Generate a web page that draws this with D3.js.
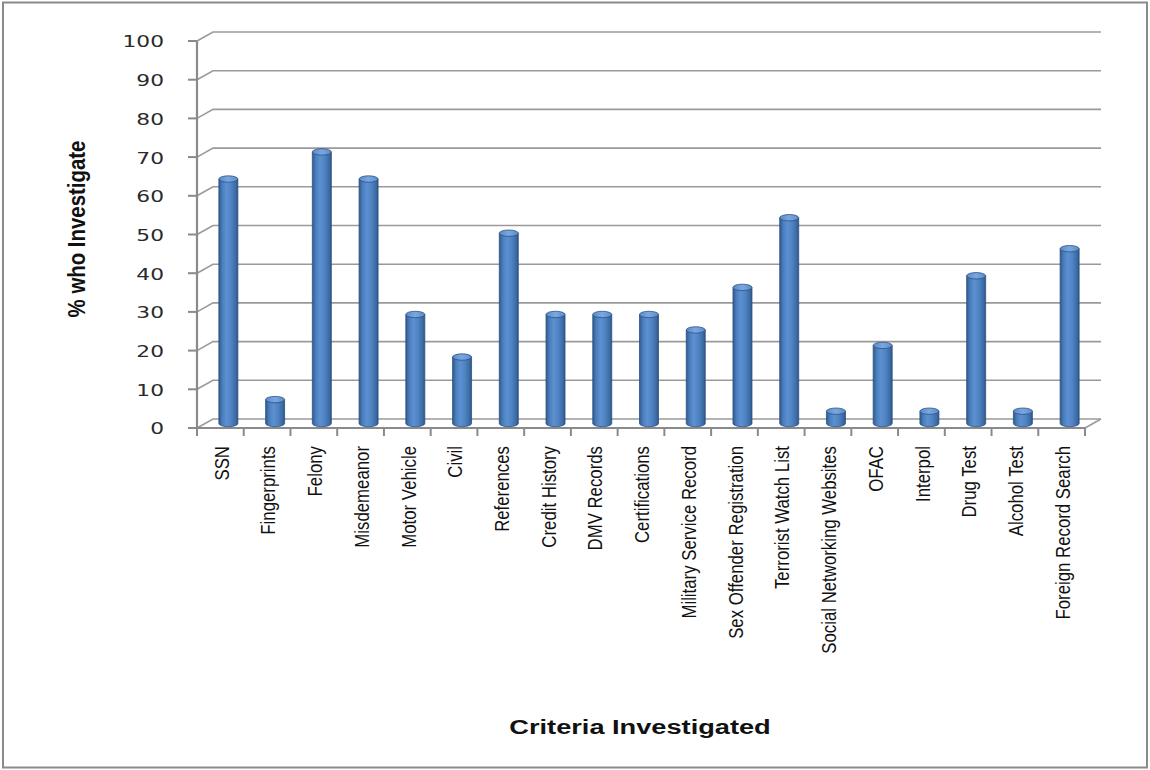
<!DOCTYPE html>
<html>
<head>
<meta charset="utf-8">
<script src="https://cdn.jsdelivr.net/npm/d3@7"></script>
<style>
  html, body { margin: 0; padding: 0; background: #fff; }
  svg { display: block; }
</style>
</head>
<body>
<svg id="chart" width="1150" height="770"></svg>
<script>
const categories = ["SSN", "Fingerprints", "Felony", "Misdemeanor", "Motor Vehicle", "Civil",
  "References", "Credit History", "DMV Records", "Certifications", "Military Service Record",
  "Sex Offender Registration", "Terrorist Watch List", "Social Networking Websites", "OFAC",
  "Interpol", "Drug Test", "Alcohol Test", "Foreign Record Search"];
const values = [64, 7, 71, 64, 29, 18, 50, 29, 29, 29, 25, 36, 54, 4, 21, 4, 39, 4, 46];
const yTicks = [0, 10, 20, 30, 40, 50, 60, 70, 80, 90, 100];
const yTitle = "% who Investigate";
const xTitle = "Criteria Investigated";

const svg = d3.select("#chart");
const depthX = 16, depthY = -9;
const x0 = 197, x1 = 1085;
const y = d3.scaleLinear().domain([0, 100]).range([428, 41]);
const x = d3.scaleBand().domain(categories).range([x0, x1]).paddingInner(0).paddingOuter(0);

// outer border
svg.append("rect").attr("x", 3).attr("y", 2.5).attr("width", 1144).attr("height", 765)
  .attr("fill", "#fff").attr("stroke", "#8a8a8a").attr("stroke-width", 2);

// defs: cylinder gradient
const defs = svg.append("defs");
const g1 = defs.append("linearGradient").attr("id", "cyl").attr("x1", "0").attr("x2", "1").attr("y1", "0").attr("y2", "0");
[[0, "#2f5a8c"], [0.18, "#4a7dbb"], [0.4, "#5c90d2"], [0.65, "#4f83c2"], [0.88, "#3d6ca7"], [1, "#2c5586"]]
  .forEach(([o, c]) => g1.append("stop").attr("offset", o).attr("stop-color", c));
const g2 = defs.append("linearGradient").attr("id", "cyltop").attr("x1", "0").attr("x2", "1").attr("y1", "0").attr("y2", "0");
[[0, "#5a8ccb"], [0.5, "#7aa7e0"], [1, "#5a8ccb"]]
  .forEach(([o, c]) => g2.append("stop").attr("offset", o).attr("stop-color", c));

// gridlines (back wall) with left-wall diagonals
const grid = svg.append("g");
yTicks.forEach(t => {
  const yf = y(t);
  grid.append("path")
    .attr("d", `M${x0},${yf} L${x0 + depthX},${yf + depthY} L${x1 + depthX},${yf + depthY}`)
    .attr("fill", "none").attr("stroke", "#9a9a9a").attr("stroke-width", 1.6);
});
// floor right diagonal
grid.append("line").attr("x1", x1).attr("y1", y(0)).attr("x2", x1 + depthX).attr("y2", y(0) + depthY)
  .attr("stroke", "#9a9a9a").attr("stroke-width", 1.6);

// y axis (front)
const yAxisG = svg.append("g");
yAxisG.append("line").attr("x1", x0).attr("x2", x0).attr("y1", y(100)).attr("y2", y(0))
  .attr("stroke", "#8a8a8a").attr("stroke-width", 2.2);
yTicks.forEach(t => {
  yAxisG.append("line").attr("x1", x0 - 9).attr("x2", x0).attr("y1", y(t)).attr("y2", y(t))
    .attr("stroke", "#8a8a8a").attr("stroke-width", 2);
  yAxisG.append("text")
    .attr("transform", `translate(164,${y(t) + 1}) scale(1.45,1)`)
    .attr("text-anchor", "end").attr("dy", "0.36em")
    .attr("font-family", "DejaVu Sans").attr("font-size", 15).attr("fill", "#2a2a2a")
    .text(t);
});

// x axis (front)
const xAxisG = svg.append("g");
xAxisG.append("line").attr("x1", x0).attr("x2", x1).attr("y1", y(0)).attr("y2", y(0))
  .attr("stroke", "#8a8a8a").attr("stroke-width", 2.2);
const bounds = categories.map(c => x(c)).concat([x1]);
bounds.forEach(b => {
  xAxisG.append("line").attr("x1", b).attr("x2", b).attr("y1", y(0)).attr("y2", y(0) + 8)
    .attr("stroke", "#8a8a8a").attr("stroke-width", 2);
});
categories.forEach(c => {
  xAxisG.append("text")
    .attr("transform", `translate(${x(c) + x.bandwidth() / 2 + 1},446) rotate(-90) scale(0.84,1)`)
    .attr("text-anchor", "end").attr("dy", "0.36em")
    .attr("font-family", "Liberation Sans").attr("font-size", 20).attr("fill", "#111")
    .text(c);
});

// bars as cylinders
const barW = 19, ry = 3.2;
const bars = svg.append("g");
categories.forEach((c, i) => {
  const cx = x(c) + x.bandwidth() / 2 + depthX / 2;
  const yb = y(0) + depthY / 2;
  const yt = y(values[i]) + depthY / 2 + ry;
  const l = cx - barW / 2, r = cx + barW / 2;
  bars.append("path")
    .attr("d", `M${l},${yt} L${l},${yb} A${barW / 2},${ry} 0 0 0 ${r},${yb} L${r},${yt} Z`)
    .attr("fill", "url(#cyl)").attr("stroke", "#2d5282").attr("stroke-width", 0.8);
  bars.append("ellipse").attr("cx", cx).attr("cy", yt).attr("rx", barW / 2).attr("ry", ry)
    .attr("fill", "url(#cyltop)").attr("stroke", "#2d5282").attr("stroke-width", 0.8);
});

// titles
svg.append("text")
  .attr("transform", "translate(76,229) rotate(-90) scale(0.85,1)")
  .attr("text-anchor", "middle").attr("dy", "0.36em")
  .attr("font-family", "Liberation Sans").attr("font-weight", "bold").attr("font-size", 24)
  .attr("fill", "#111").text(yTitle);
svg.append("text")
  .attr("transform", "translate(640,734) scale(1.36,1)")
  .attr("text-anchor", "middle")
  .attr("font-family", "Liberation Sans").attr("font-weight", "bold").attr("font-size", 20)
  .attr("fill", "#111").text(xTitle);
</script>
</body>
</html>
